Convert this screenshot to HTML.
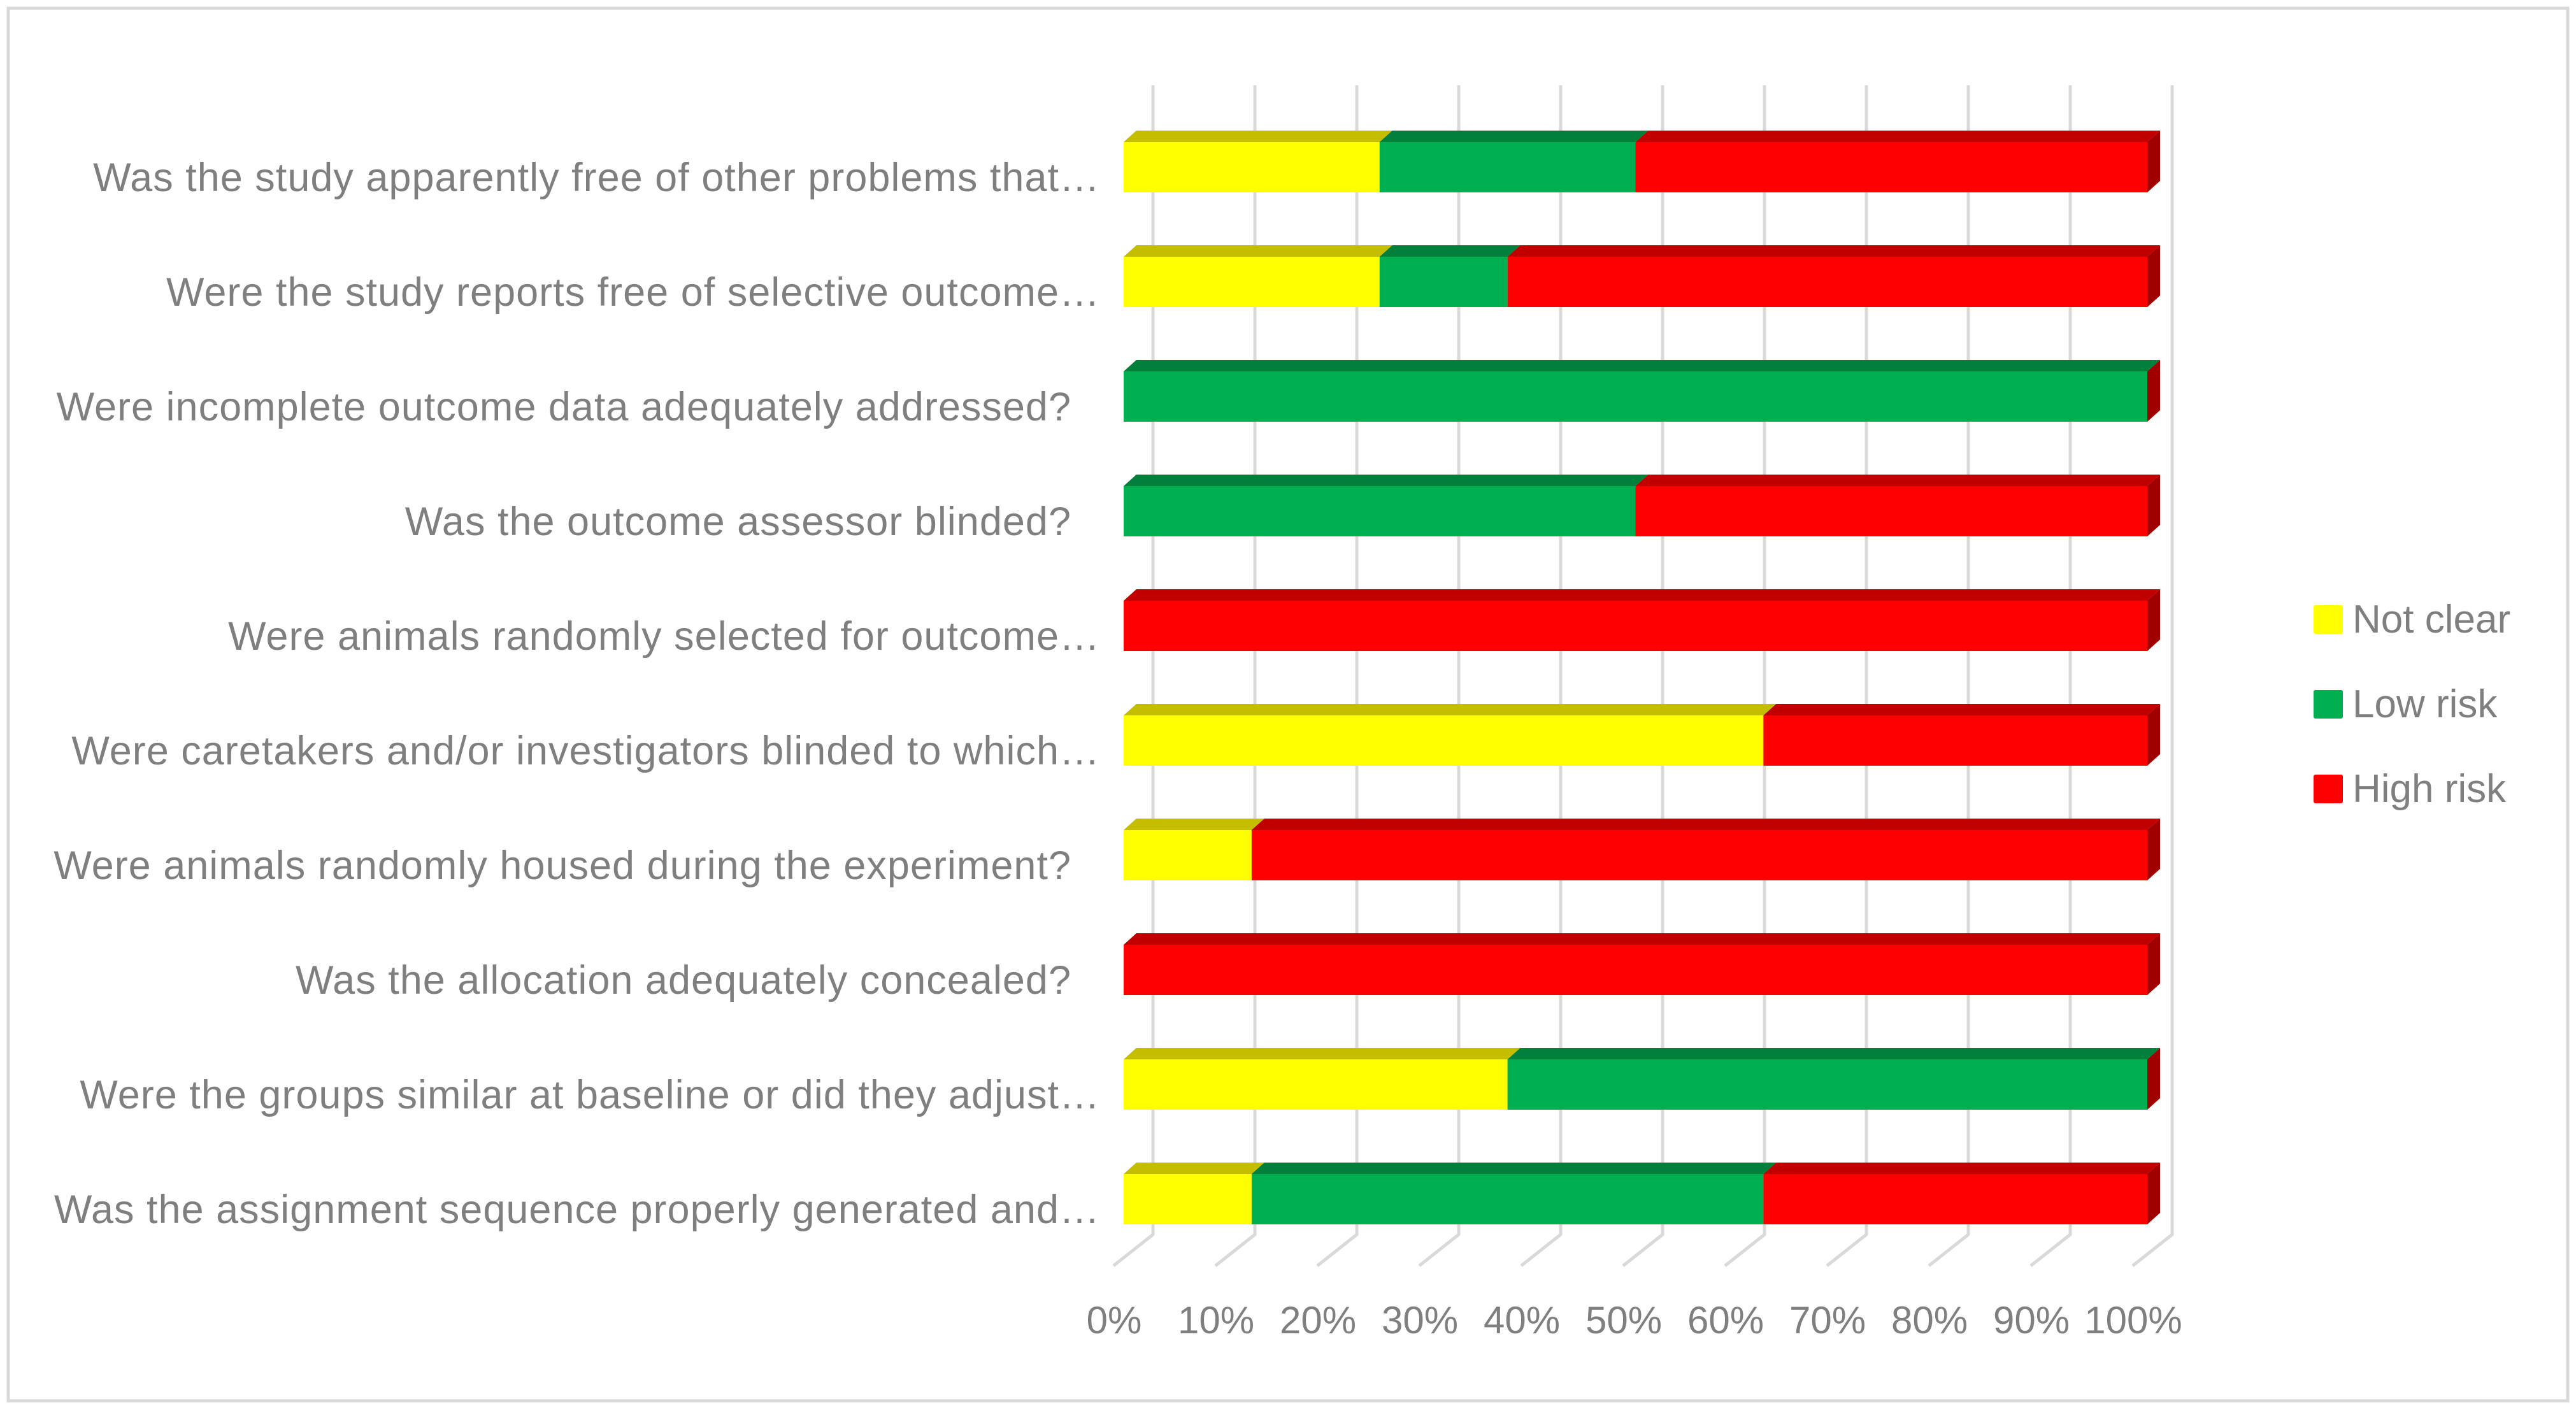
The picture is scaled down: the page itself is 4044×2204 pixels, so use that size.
<!DOCTYPE html>
<html><head><meta charset="utf-8"><style>
html,body{margin:0;padding:0;background:#fff}
svg{display:block}
text{font-family:"Liberation Sans",sans-serif;fill:#7f7f7f}
</style></head><body>
<svg id="chart" width="4044" height="2204" viewBox="0 0 4044 2204" xmlns="http://www.w3.org/2000/svg">
<rect x="13" y="13" width="4018" height="2186" fill="#fff" stroke="#d9d9d9" stroke-width="5"/>
<g id="grid"></g>
<g id="bars"></g>
<g id="cats"></g>
<g id="ticks"></g>
<g id="legend"></g>
</svg>
<script>
const categories = [
 "Was the study apparently free of other problems that…",
 "Were the study reports free of selective outcome…",
 "Were incomplete outcome data adequately addressed?",
 "Was the outcome assessor blinded?",
 "Were animals randomly selected for outcome…",
 "Were caretakers and/or investigators blinded to which…",
 "Were animals randomly housed during the experiment?",
 "Was the allocation adequately concealed?",
 "Were the groups similar at baseline or did they adjust…",
 "Was the assignment sequence properly generated and…"
];
const seriesNames = ["Not clear","Low risk","High risk"];
const notClear = [25,25,0,0,0,62.5,12.5,0,37.5,12.5];
const lowRisk  = [25,12.5,100,50,0,0,0,0,62.5,50];
const highRisk = [50,62.5,0,50,100,37.5,87.5,100,0,37.5];
const tickLabels = ["0%","10%","20%","30%","40%","50%","60%","70%","80%","90%","100%"];

const NS="http://www.w3.org/2000/svg";
function mk(tag,attrs,parent){const e=document.createElementNS(NS,tag);for(const k in attrs)e.setAttribute(k,attrs[k]);parent.appendChild(e);return e;}
const X0=1764, XW=1607;
const BX0=1810, BXW=1600;
const xF=v=>X0+v/100*XW;
const xB=v=>BX0+v/100*BXW;
const ROW0=223, ROWH=180, BARH=79, DX=20, DY=-18;
const rowTop=i=>ROW0+i*ROWH;
const fronts=["#FFFF00","#00B050","#FF0000"];
const tops=["#C4BD00","#00803A","#C00000"];
const G=document.getElementById('grid'),B=document.getElementById('bars'),C=document.getElementById('cats'),T=document.getElementById('ticks'),L=document.getElementById('legend');

tickLabels.forEach((t,i)=>{
  const v=i*10, x=xB(v);
  const ln=mk('polyline',{points:`${x},134 ${x},1938 ${x-62},1987`,fill:'none',stroke:'#d9d9d9','stroke-width':5},G);
  
  
  const tx=mk('text',{x:1749+i*160,y:2093,'font-size':60,'text-anchor':'middle'},T);
  tx.textContent=t;
  
  
});

const series=[notClear,lowRisk,highRisk];
categories.forEach((cat,i)=>{
  const y=rowTop(i);
  let acc=0;
  series.forEach((s,k)=>{
    const v=s[i]; if(v<=0) return;
    const xa=xF(acc), xb=xF(acc+v); acc+=v;
    const g=mk('g',{},B);
    
    
    mk('polygon',{points:`${xa},${y} ${xa+DX},${y+DY} ${xb+DX},${y+DY} ${xb},${y}`,fill:tops[k]},g);
    mk('rect',{x:xa,y:y,width:xb-xa,height:BARH,fill:fronts[k]},g);
  });
  const xe=xF(acc);
  const side=mk('polygon',{points:`${xe},${y} ${xe+DX},${y+DY} ${xe+DX},${y+DY+BARH} ${xe},${y+BARH}`,fill:'#A00000'},B);
  
  
  const ends=cat.endsWith('?');
  const tx=mk('text',{x:ends?1682:1727,y:y+77,'font-size':63,'letter-spacing':1,'text-anchor':'end'},C);
  tx.textContent=cat;
  
  
});

seriesNames.forEach((n,k)=>{
  const y=950+k*133;
  const g=mk('g',{},L);
  
  
  mk('rect',{x:3632,y:y,width:46,height:45,rx:3,fill:fronts[k]},g);
  const tx=mk('text',{x:3693,y:y+43,'font-size':62},g);
  tx.textContent=n;
});
</script>
</body></html>
